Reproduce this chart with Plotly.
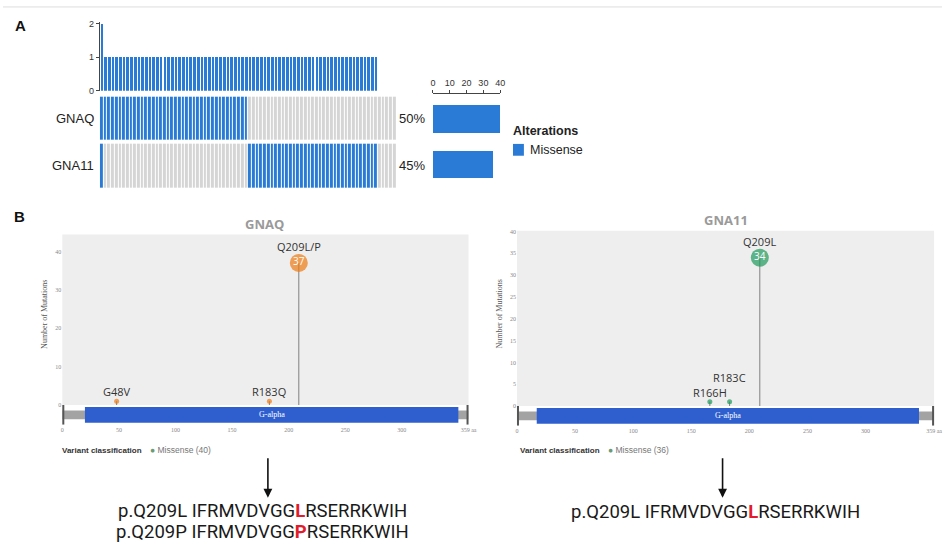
import plotly.graph_objects as go

W, H = 950, 548


def fx(p):
    return p / W


def fy(p):
    return 1 - p / H


# ---------------- Panel A: oncoprint (80 samples, 1 = missense) ----------------
GENES = ["GNAQ", "GNA11"]
GNAQ_STATUS = ("1111111111" "1111111111" "1111111111" "1111111111"
               "0000000000" "0000000000" "0000000000" "0000000000")
GNA11_STATUS = ("1000000000" "0000000000" "0000000000" "0000000000"
                "1111111111" "1111111111" "1111111111" "1111100000")
FREQ_TICKS = [0, 10, 20, 30, 40]
SAMPLE_TICKS = [0, 1, 2]
ALTERATION_TYPE = "Missense"

# ---------------- Panel B: lollipop plots ----------------
GNAQ_LENGTH = 359
GNAQ_DOMAIN = [20, 350]
GNAQ_POS = [48, 183, 209]
GNAQ_LABELS = ["G48V", "R183Q", "Q209L/P"]
GNAQ_COUNTS = [1, 1, 37]
GNAQ_YTICKS = [0, 10, 20, 30, 40]

GNA11_LENGTH = 359
GNA11_DOMAIN = [17, 346]
GNA11_POS = [166, 183, 209]
GNA11_LABELS = ["R166H", "R183C", "Q209L"]
GNA11_COUNTS = [1, 1, 34]
GNA11_YTICKS = [0, 5, 10, 15, 20, 25, 30, 35, 40]

AA_TICKS = [0, 50, 100, 150, 200, 250, 300]
DOMAIN_NAME = "G-alpha"

SEQ_GNAQ = [("p.Q209L", "IFRMVDVGG", "L", "RSERRKWIH"),
            ("p.Q209P", "IFRMVDVGG", "P", "RSERRKWIH")]
SEQ_GNA11 = [("p.Q209L", "IFRMVDVGG", "L", "RSERRKWIH")]

BLUE = "#2a7bd6"
GREY_CELL = "#d5d5d5"
ORANGE = "#ec7a12"
GREEN = "#1d9a5b"
DOMAIN_BLUE = "#2f5fcf"

gnaq = [int(c) for c in GNAQ_STATUS]
gna11 = [int(c) for c in GNA11_STATUS]
n_samples = len(gnaq)
samples = list(range(n_samples))
per_sample = [a + b for a, b in zip(gnaq, gna11)]
gene_counts = [sum(gnaq), sum(gna11)]
gene_pct = [f"{round(100 * c / n_samples)}%" for c in gene_counts]

fig = go.Figure()

# mutations per sample
fig.add_trace(go.Bar(x=samples, y=per_sample, width=0.72, marker=dict(color=BLUE, line=dict(width=0)),
                     xaxis="x", yaxis="y", hoverinfo="skip", showlegend=False))

# oncoprint grid
fig.add_trace(go.Heatmap(z=[gnaq, gna11], x=samples, y=[0, 1], xaxis="x2", yaxis="y2",
                         zmin=0, zmax=1, showscale=False, xgap=1, ygap=4, hoverinfo="skip",
                         colorscale=[[0, GREY_CELL], [0.5, GREY_CELL], [0.5, BLUE], [1, BLUE]]))

# altered samples per gene
fig.add_trace(go.Bar(x=gene_counts, y=[0, 1], orientation="h", width=0.6,
                     marker=dict(color=BLUE, line=dict(width=0)),
                     xaxis="x3", yaxis="y3", hoverinfo="skip", showlegend=False))

annotations = []
shapes = []


def note(text, x, y, size, color="#222", family=None, xanchor="center", **kw):
    font = dict(size=size, color=color)
    if family:
        font["family"] = family
    d = dict(text=text, x=x, y=y, xref=kw.pop("xref", "paper"), yref=kw.pop("yref", "paper"),
             xanchor=xanchor, yanchor=kw.pop("yanchor", "middle"), showarrow=False, font=font)
    d.update(kw)
    annotations.append(d)


note("<b>A</b>", fx(18), fy(23), 15, "#111")
note("<b>B</b>", fx(17), fy(217), 15, "#111")

for i, g in enumerate(GENES):
    note(g, fx(94), i, 13, yref="y2", xanchor="right")
    note(gene_pct[i], fx(399), i, 13, yref="y2", xanchor="left")

# alterations key
note("<b>Alterations</b>", fx(514), fy(130), 12.5, xanchor="left")
shapes.append(dict(type="rect", xref="paper", yref="paper", x0=fx(516), x1=fx(527),
                   y0=fy(155), y1=fy(143), fillcolor=BLUE, line=dict(width=0)))
note(ALTERATION_TYPE, fx(531), fy(149), 12.5, xanchor="left")

shapes.append(dict(type="line", xref="paper", yref="paper", x0=0, x1=1, y0=fy(4), y1=fy(4),
                   line=dict(color="#dedede", width=1)))


def lollipop(xa, ya, ta, pos, labels, counts, color, length, domain):
    xr, yr, tr = "x" + xa, "y" + ya, "y" + ta
    sx, sy = [], []
    for p, c in zip(pos, counts):
        sx += [p, p, None]
        sy += [0, c, None]
    fig.add_trace(go.Scatter(x=sx, y=sy, mode="lines", line=dict(color="#808080", width=1),
                             xaxis=xr, yaxis=yr, hoverinfo="skip", showlegend=False))
    sizes = [18 if c >= 10 else 5 for c in counts]
    fig.add_trace(go.Scatter(x=pos, y=counts, mode="markers+text",
                             marker=dict(size=sizes, color=color, line=dict(width=0)),
                             text=[str(c) if c >= 10 else "" for c in counts],
                             textposition="middle center",
                             textfont=dict(color="white", size=10, family="Open Sans"),
                             xaxis=xr, yaxis=yr, hoverinfo="skip", showlegend=False))
    placed = []
    for p, c, lab, s in zip(pos, counts, labels, sizes):
        lift = 0
        for q, qc, ql in placed:
            if abs(p - q) < 25 and qc == c and ql == lift:
                lift += 15
        placed.append((p, c, lift))
        note(lab, p, c, 11, "#333", "Open Sans", xref=xr, yref=yr, yshift=s / 2 + 7 + lift)

    # plot background
    shapes.append(dict(type="rect", xref=xr + " domain", yref=yr + " domain", x0=0, x1=1, y0=0, y1=1,
                       fillcolor="#eeeeee", line=dict(width=0), layer="below"))
    # protein track
    shapes.append(dict(type="rect", xref=xr, yref=tr, x0=0, x1=length, y0=-0.45, y1=0.45,
                       fillcolor="#a3a3a3", line=dict(width=0)))
    for e in (0, length):
        shapes.append(dict(type="line", xref=xr, yref=tr, x0=e, x1=e, y0=-1, y1=1,
                           line=dict(color="#555555", width=4)))
    shapes.append(dict(type="rect", xref=xr, yref=tr, x0=domain[0], x1=domain[1], y0=-0.8, y1=0.8,
                       fillcolor=DOMAIN_BLUE, line=dict(width=0)))
    note(DOMAIN_NAME, (domain[0] + domain[1]) / 2, 0, 8, "white", "Liberation Serif", xref=xr, yref=tr)


lollipop("4", "4", "5", GNAQ_POS, GNAQ_LABELS, GNAQ_COUNTS, ORANGE, GNAQ_LENGTH, GNAQ_DOMAIN)
lollipop("6", "6", "7", GNA11_POS, GNA11_LABELS, GNA11_COUNTS, GREEN, GNA11_LENGTH, GNA11_DOMAIN)

# titles, axis titles and variant keys of panel B
for gene, cx, ty, ax_x, key_x, dot_x, total in (
        ("GNAQ", 265, 224, 42, 58, 147, gene_counts[0]),
        ("GNA11", 731, 220, 502, 521, 610, gene_counts[1])):
    note(f"<b>{gene}</b>", fx(cx), fy(ty), 13, "#9a9a9a", "Open Sans")
    note("Number of Mutations", fx(ax_x), fy(316), 8, "#555", "Liberation Serif", textangle=-90)
    note("<b>Variant classification</b>", fx(key_x), fy(454), 8, "#333", xanchor="left")
    note(f"<span style='color:#6a9a78'>●</span> {ALTERATION_TYPE} ({total})", fx(dot_x), fy(454), 8.5,
         "#777", xanchor="left")

# arrows to the resulting sequences
for axx in (268, 728):
    annotations.append(dict(text="", x=fx(axx), y=fy(502), xref="paper", yref="paper", showarrow=True,
                            ax=0, ay=-41, arrowhead=2, arrowsize=1.1, arrowwidth=1.6, arrowcolor="#111"))


def seq_text(parts):
    name, pre, aa, post = parts
    return f"{name} {pre}<span style='color:#e31b2b'><b>{aa}</b></span>{post}"


for k, parts in enumerate(SEQ_GNAQ):
    note(seq_text(parts), fx(263), fy(516 + 21 * k), 18.5, "#1a1a1a", "Roboto")
for k, parts in enumerate(SEQ_GNA11):
    note(seq_text(parts), fx(721), fy(517 + 21 * k), 18.5, "#1a1a1a", "Roboto")

small_axis = dict(showgrid=False, zeroline=False, ticks="",
                  tickfont=dict(size=6, color="#888", family="Liberation Serif"))

fig.update_layout(
    width=W, height=H, margin=dict(l=0, r=0, t=0, b=0),
    paper_bgcolor="white", plot_bgcolor="white",
    font=dict(family="Liberation Sans", color="#222"),
    showlegend=False, bargap=0,
    xaxis=dict(domain=[fx(98), fx(398)], range=[-0.5, n_samples - 0.5], visible=False, anchor="y"),
    yaxis=dict(domain=[fy(89), fy(19)], range=[0, 2.06], anchor="x", tickvals=SAMPLE_TICKS,
               showline=True, linecolor="#444", ticks="outside", ticklen=3, tickcolor="#444",
               tickfont=dict(size=9, color="#333"), showgrid=False, zeroline=False),
    xaxis2=dict(domain=[fx(98), fx(398)], range=[-0.5, n_samples - 0.5], visible=False, anchor="y2"),
    yaxis2=dict(domain=[fy(189), fy(93)], range=[1.5, -0.5], visible=False, anchor="x2"),
    xaxis3=dict(domain=[fx(435), fx(503)], range=[0, 40], side="top", tickvals=FREQ_TICKS, anchor="y3",
                showline=True, linecolor="#444", ticks="outside", ticklen=3, tickcolor="#444",
                tickfont=dict(size=9, color="#333"), showgrid=False, zeroline=False),
    yaxis3=dict(domain=[fy(186), fy(92)], range=[1.48, -0.54], visible=False, anchor="x3"),
    xaxis4=dict(domain=[fx(60), fx(471)], range=[0, GNAQ_LENGTH], anchor="y5",
                tickvals=AA_TICKS + [GNAQ_LENGTH], ticktext=[str(t) for t in AA_TICKS] + [f"{GNAQ_LENGTH} aa"],
                **small_axis),
    yaxis4=dict(domain=[fy(408), fy(235)], range=[0, 44.4], anchor="x4", tickvals=GNAQ_YTICKS, **small_axis),
    yaxis5=dict(domain=[fy(428), fy(408)], range=[-1, 1], anchor="x4", visible=False),
    xaxis6=dict(domain=[fx(520), fx(942)], range=[0, GNA11_LENGTH], anchor="y7",
                tickvals=AA_TICKS + [GNA11_LENGTH],
                ticktext=[str(t) for t in AA_TICKS] + [f"{GNA11_LENGTH} aa"], **small_axis),
    yaxis6=dict(domain=[fy(409), fy(231)], range=[0, 40.2], anchor="x6", tickvals=GNA11_YTICKS, **small_axis),
    yaxis7=dict(domain=[fy(429), fy(409)], range=[-1, 1], anchor="x6", visible=False),
    annotations=annotations,
    shapes=shapes,
)

fig.write_html("out.html")
